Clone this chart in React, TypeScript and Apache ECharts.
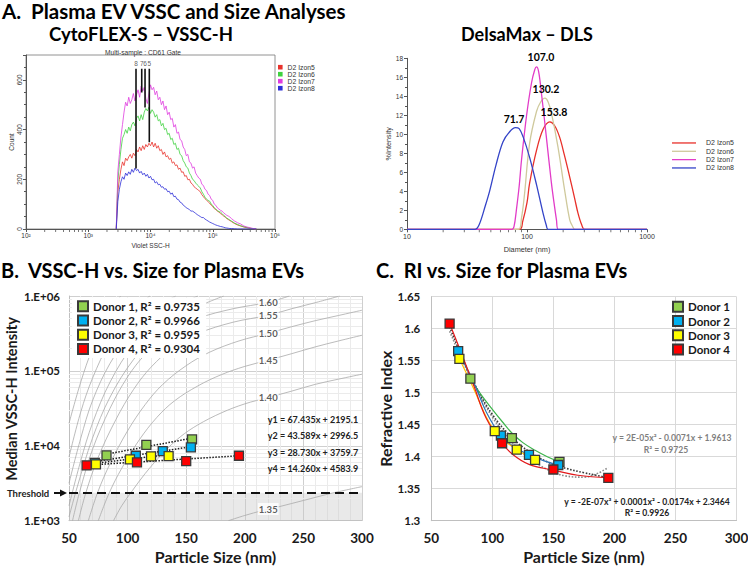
import React, { useEffect, useRef } from 'react';
import * as echarts from 'echarts';

const CAL = "Lato, 'Liberation Sans', sans-serif";
const SANS = "'Liberation Sans', Arial, sans-serif";

// ---------------- Panel A (left): CytoFLEX-S VSSC-H histogram ----------------
const flowBins = [
  2818, 2985, 3162, 3350, 3548, 3758, 3981, 4217, 4467, 4732,
  5012, 5309, 5623, 5957, 6310, 6683, 7079, 7499, 7943, 8414,
  8913, 9441, 10000, 10593, 11220, 11885, 12589, 13335, 14125, 14962,
  15849, 16788, 17783, 18836, 19953, 21135, 22387, 23714, 25119, 26607,
  28184, 29854, 31623, 33497, 35481, 37584, 39811, 42170, 44668, 47315,
  50119, 53088, 56234, 59566, 63096, 66834, 70795, 74989, 79433, 84140,
  89125, 94406, 100000, 105925, 112202, 118850, 125893, 133352, 141254, 149624,
  158489, 167880, 177828, 188365, 199526,
  223872, 251189, 281838, 316228, 354813, 398107, 446684, 501187,
];
const flowIzon5 = [
  0, 150, 200, 240, 270, 255, 285, 275, 290, 300,
  285, 305, 295, 320, 310, 330, 315, 335, 320, 340,
  330, 345, 335, 350, 330, 345, 325, 335, 315, 320,
  300, 310, 290, 295, 280, 285, 265, 270, 255, 258,
  240, 245, 228, 230, 212, 215, 198, 200, 185, 180,
  170, 165, 160, 155, 150, 138, 130, 122, 116, 110,
  104, 96, 90, 82, 78, 72, 68, 62, 58, 52,
  48, 42, 38, 34, 30,
  22, 16, 12, 8, 5, 3, 1, 0,
];
const flowIzon6 = [
  0, 190, 260, 320, 365, 380, 400, 385, 410, 395,
  420, 430, 415, 445, 455, 435, 460, 440, 470, 485,
  475, 490, 465, 480, 470, 450, 460, 435, 440, 415,
  425, 400, 405, 380, 385, 360, 365, 340, 345, 320,
  325, 300, 295, 275, 265, 250, 245, 225, 215, 200,
  195, 185, 178, 172, 165, 150, 140, 128, 120, 115,
  112, 100, 95, 85, 80, 74, 70, 68, 62, 55,
  50, 44, 40, 36, 32,
  24, 18, 13, 9, 6, 3, 1, 0,
];
const flowIzon7 = [
  0, 230, 300, 370, 420, 470, 510, 495, 530, 505,
  520, 545, 515, 540, 560, 530, 575, 555, 570, 525,
  505, 545, 580, 560, 570, 540, 555, 520, 530, 500,
  515, 480, 495, 460, 470, 440, 445, 410, 420, 385,
  390, 360, 355, 330, 320, 295, 300, 270, 265, 245,
  250, 225, 215, 205, 200, 180, 175, 160, 155, 140,
  135, 120, 115, 100, 95, 85, 80, 75, 72, 65,
  60, 55, 52, 48, 42,
  32, 25, 20, 12, 8, 5, 2, 0,
];
const flowIzon8 = [
  0, 110, 160, 190, 210, 200, 225, 215, 230, 220,
  240, 228, 245, 235, 240, 225, 232, 218, 225, 212,
  220, 205, 212, 198, 200, 185, 190, 178, 180, 168,
  170, 160, 162, 150, 152, 140, 145, 130, 132, 120,
  118, 108, 105, 96, 92, 85, 82, 78, 72, 72,
  68, 63, 58, 54, 50, 46, 46, 40, 36, 32,
  28, 25, 22, 19, 16, 14, 12, 10, 9, 7,
  5, 4, 3, 2, 2,
  1, 0, 0, 0, 0, 0, 0, 0,
];
const flowNames = ['D2 Izon5', 'D2 Izon6', 'D2 Izon7', 'D2 Izon8'];
const flowColors = ['#e8322c', '#3fd23f', '#e03ce0', '#2d2fd8'];
const gateLabels = ['8', '7', '6', '5'];
const gateX = [5850, 7230, 8170, 9570];
const gateBottom = [243, 549, 489, 349];
const gateTop = 645;
const flowMinorTicks = [
  200, 300, 400, 500, 600, 700, 800, 900,
  2000, 3000, 4000, 5000, 6000, 7000, 8000, 9000,
  20000, 30000, 40000, 50000, 60000, 70000, 80000, 90000,
  200000, 300000, 400000, 500000, 600000, 700000, 800000, 900000,
];

// ---------------- Panel A (right): DelsaMax DLS ----------------
const dlsNames = ['D2 Izon5 ', 'D2 Izon6 ', 'D2 Izon7 ', 'D2 Izon8 '];
const dlsColors = ['#e8302a', '#cfc99c', '#e23cc8', '#3444c8'];
const dls5X = [10, 87, 92, 100, 105, 120, 136, 155, 170, 187, 205, 227, 250, 266, 285, 302, 1000];
const dls5Y = [0, 0, 0.8, 2.8, 4.8, 8.3, 10.5, 11.3, 10.9, 9.7, 7.8, 5.5, 3.2, 1.7, 0.5, 0, 0];
const dls6X = [10, 85, 90, 95, 105, 120, 130, 141, 150, 160, 181, 206, 227, 240, 250, 1000];
const dls6Y = [0, 0, 1.2, 3.5, 9.0, 12.4, 13.4, 13.8, 13.4, 12.2, 8.7, 4.1, 1.0, 0.3, 0, 0];
const dls7X = [10, 75, 78, 81.5, 86, 90, 99, 109, 116, 120, 125, 132, 145, 160, 170, 176, 182, 1000];
const dls7Y = [0, 0, 0.3, 2, 4.5, 7.3, 11.9, 15.4, 16.8, 17.1, 16.6, 14.3, 9.7, 4.8, 2.3, 1, 0, 0];
const dls8X = [10, 37, 40, 45, 49, 55, 63, 72, 80, 86, 93, 105, 120, 136, 145, 150, 1000];
const dls8Y = [0, 0, 0.5, 2.5, 4.1, 6.7, 9.2, 10.3, 10.7, 10.6, 9.7, 7.6, 4.7, 1.7, 0.4, 0, 0];
const dlsMinorTicks = [20, 30, 40, 50, 60, 70, 80, 90, 200, 300, 400, 500, 600, 700, 800, 900];

// ---------------- Panel B: VSSC-H vs size ----------------
const d1Size = [82, 116, 155];
const d2Size = [72, 107, 130, 154];
const d3Size = [73, 102, 120, 135];
const d4Size = [65, 108, 150, 195];
const d1Int = [7450, 10300, 12160];
const d2Int = [5930, 7360, 8490, 9530];
const d3Int = [5650, 6580, 7210, 7290];
const d4Int = [5480, 6010, 6250, 7360];
const d1Trend = [7725, 12647];
const d2Trend = [6135, 9709];
const d3Trend = [5857, 7638];
const d4Trend = [5511, 7365];
const thresholdValue = 2360;
const bMinorY = [
  2000, 3000, 4000, 5000, 6000, 7000, 8000, 9000,
  20000, 30000, 40000, 50000, 60000, 70000, 80000, 90000,
  200000, 300000, 400000, 500000, 600000, 700000, 800000, 900000,
];
// theoretical RI curves: size (nm) and log10(intensity)
const ri135Size = [186, 200, 215, 230, 250, 275, 300];
const ri135Log = [3.0, 3.07, 3.135, 3.19, 3.27, 3.37, 3.455];
const ri140Size = [88, 95, 104, 115, 130, 145, 160, 180, 200, 220, 240, 260, 280, 300];
const ri140Log = [3.0, 3.2, 3.4, 3.63, 3.9, 4.12, 4.28, 4.44, 4.56, 4.645, 4.73, 4.82, 4.89, 4.956];
const ri145Size = [75, 84, 95, 110, 125, 140, 160, 180, 200, 220, 240, 260, 280, 300];
const ri145Log = [3.0, 3.36, 3.7, 4.08, 4.38, 4.6, 4.8, 4.95, 5.06, 5.143, 5.23, 5.32, 5.4, 5.476];
const ri150Size = [66.5, 74.5, 85, 100, 115, 130, 150, 170, 195, 220, 240, 260, 280, 300];
const ri150Log = [3.0, 3.38, 3.76, 4.2, 4.55, 4.82, 5.07, 5.25, 5.4, 5.503, 5.59, 5.67, 5.74, 5.81];
const ri155Size = [58, 64.5, 75, 90, 105, 120, 140, 160, 190, 220, 240, 260, 281];
const ri155Log = [3.0, 3.38, 3.85, 4.35, 4.75, 5.05, 5.33, 5.5, 5.65, 5.743, 5.83, 5.91, 6.0];
const ri160Size = [53, 59, 70, 85, 100, 115, 135, 160, 190, 220, 238];
const ri160Log = [3.0, 3.38, 3.95, 4.5, 4.92, 5.22, 5.5, 5.7, 5.83, 5.916, 6.0];
const riU1Size = [50, 60, 70, 80, 94];
const riU1Log = [4.3, 4.85, 5.3, 5.65, 6.0];
const riU2Size = [50, 60, 70, 85, 100, 119];
const riU2Log = [3.85, 4.45, 4.9, 5.4, 5.75, 6.0];
const riU3Size = [50, 60, 70, 85, 105, 125, 141];
const riU3Log = [3.5, 4.1, 4.6, 5.1, 5.55, 5.85, 6.0];
const riU4Size = [50, 60, 70, 85, 105, 130, 160];
const riU4Log = [3.2, 3.8, 4.3, 4.85, 5.35, 5.75, 6.0];
const riU5Size = [50, 57, 70, 85, 105, 130, 155, 182];
const riU5Log = [3.05, 3.45, 4.1, 4.65, 5.15, 5.57, 5.82, 6.0];
const riLabelText = ['1.60', '1.55', '1.50', '1.45', '1.40', '1.35'];
const riLabelSize = 220;
const riLabelLog = [5.91, 5.743, 5.503, 5.143, 4.645, 3.156];

// ---------------- Panel C: RI vs size ----------------
const d1RI = [1.522, 1.429, 1.392];
const d2RI = [1.565, 1.433, 1.403, 1.387];
const d3RI = [1.553, 1.440, 1.411, 1.395];
const d4RI = [1.608, 1.421, 1.380, 1.367];
const fitSize = [65, 75, 85, 100, 115, 130, 145, 160, 175, 185, 195];
const fitQuadRI = [1.596, 1.552, 1.513, 1.462, 1.425, 1.398, 1.380, 1.370, 1.368, 1.373, 1.383];
const fitCubicRI = [1.603, 1.556, 1.515, 1.466, 1.432, 1.408, 1.392, 1.382, 1.375, 1.371, 1.367];
const d1LineSize = [82, 90, 100, 108, 116, 125, 135, 145, 155];
const d1LineRI = [1.522, 1.499, 1.474, 1.455, 1.437, 1.422, 1.410, 1.400, 1.392];
const d2LineSize = [72, 85, 95, 107, 118, 130, 143, 154];
const d2LineRI = [1.565, 1.515, 1.47, 1.433, 1.415, 1.403, 1.393, 1.387];
const d3LineSize = [73, 85, 95, 102, 110, 120, 128, 135];
const d3LineRI = [1.553, 1.505, 1.462, 1.44, 1.425, 1.411, 1.402, 1.395];
const d4LineSize = [65, 75, 85, 95, 108, 117, 130, 150, 170, 195];
const d4LineRI = [1.608, 1.56, 1.51, 1.46, 1.421, 1.403, 1.388, 1.379, 1.371, 1.367];

const donorFill = ['#92d050', '#00b0f0', '#ffff00', '#ff0000'];
const donorLine = ['#3cb44b', '#2e75b6', '#ffc000', '#e31a1c'];
const donorNamesB = ['Donor 1, R² = 0.9735', 'Donor 2, R² = 0.9966', 'Donor 3, R² = 0.9595', 'Donor 4, R² = 0.9304'];
const donorNamesC = ['Donor 1', 'Donor 2', 'Donor 3', 'Donor 4'];

const SUP: Record<number, string> = { 2: '²', 3: '³', 4: '⁴', 5: '⁵', 6: '⁶' };
const zip = (xs: number[], ys: number[]) => xs.map((x, i) => [x, ys[i]]);

function T(x: number, y: number, text: string, font: string, align = 'left', fill = '#000', rotation = 0) {
  return { type: 'text', x, y, rotation, z: 100, silent: true, style: { text, font, fill, align, verticalAlign: 'middle' } };
}

function buildOption() {
  const series: any[] = [];
  // Flow histogram
  const flowVals = [flowIzon5, flowIzon6, flowIzon7, flowIzon8];
  flowNames.forEach((n, i) => {
    series.push({
      type: 'line', name: n, xAxisIndex: 0, yAxisIndex: 0, data: zip(flowBins, flowVals[i]),
      symbol: 'none', lineStyle: { width: 0.8, color: flowColors[i] }, itemStyle: { color: flowColors[i] }, z: 2,
    });
  });
  gateX.forEach((x, i) => {
    series.push({
      type: 'line', xAxisIndex: 0, yAxisIndex: 0, data: [[x, gateTop], [x, gateBottom[i]]],
      symbol: 'none', lineStyle: { width: 1.6, color: '#111' }, z: 4, silent: true,
    });
  });
  series.push({
    type: 'scatter', xAxisIndex: 0, yAxisIndex: 0, data: gateX.map((x, i) => [x, gateTop, gateLabels[i]]),
    symbolSize: 0.01, itemStyle: { color: 'rgba(0,0,0,0)' }, silent: true, z: 5,
    label: { show: true, position: 'top', distance: 2, formatter: (p: any) => p.value[2], fontSize: 6.5, color: '#333', fontFamily: SANS },
  });
  series.push({
    type: 'scatter', xAxisIndex: 0, yAxisIndex: 0, data: flowMinorTicks.map((v) => [v, 0]), clip: false, silent: true,
    symbol: 'rect', symbolSize: [0.8, 3], symbolOffset: [0, 1.5], itemStyle: { color: '#555', opacity: 1 }, z: 1,
  });

  // DLS
  const dlsX = [dls5X, dls6X, dls7X, dls8X];
  const dlsY = [dls5Y, dls6Y, dls7Y, dls8Y];
  dlsNames.forEach((n, i) => {
    series.push({
      type: 'line', name: n, xAxisIndex: 1, yAxisIndex: 1, data: zip(dlsX[i], dlsY[i]), smooth: 0.35,
      symbol: 'none', lineStyle: { width: 1.3, color: dlsColors[i] }, itemStyle: { color: dlsColors[i] }, z: 2,
    });
  });
  series.push({
    type: 'scatter', xAxisIndex: 1, yAxisIndex: 1, data: dlsMinorTicks.map((v) => [v, 0]), clip: false, silent: true,
    symbol: 'rect', symbolSize: [0.8, 3], symbolOffset: [0, 1.5], itemStyle: { color: '#555', opacity: 1 }, z: 1,
  });

  // Panel B background marks
  series.push({
    type: 'line', xAxisIndex: 2, yAxisIndex: 2, data: [], symbol: 'none', silent: true, z: 1,
    markArea: { silent: true, z: 1, itemStyle: { color: 'rgba(200,200,200,0.4)' }, data: [[{ yAxis: 1000 }, { yAxis: thresholdValue }]] },
    markLine: {
      silent: true, z: 1, symbol: 'none', label: { show: false }, animation: false,
      lineStyle: { color: '#ebebeb', width: 1, type: 'solid' }, data: bMinorY.map((v) => ({ yAxis: v })),
    },
  });
  const riCurves = [
    [ri135Size, ri135Log], [ri140Size, ri140Log], [ri145Size, ri145Log], [ri150Size, ri150Log],
    [ri155Size, ri155Log], [ri160Size, ri160Log], [riU1Size, riU1Log], [riU2Size, riU2Log],
    [riU3Size, riU3Log], [riU4Size, riU4Log], [riU5Size, riU5Log],
  ];
  riCurves.forEach(([s, l]) => {
    series.push({
      type: 'line', xAxisIndex: 2, yAxisIndex: 2, data: s.map((v, i) => [v, Math.pow(10, l[i])]),
      smooth: 0.35, symbol: 'none', silent: true, lineStyle: { color: '#a9a9a9', width: 0.8 }, z: 2,
    });
  });
  series.push({
    type: 'scatter', xAxisIndex: 2, yAxisIndex: 2, silent: true, z: 3,
    data: riLabelText.map((t, i) => [riLabelSize, Math.pow(10, riLabelLog[i]), t]),
    symbolSize: 0.01, itemStyle: { color: 'rgba(0,0,0,0)' },
    label: { show: true, position: 'inside', formatter: (p: any) => p.value[2], fontSize: 9.5, fontWeight: 'bold', fontFamily: CAL, color: '#333', backgroundColor: '#fff', padding: [1, 1] },
  });
  series.push({
    type: 'line', xAxisIndex: 2, yAxisIndex: 2, data: [], symbol: 'none', silent: true, z: 3,
    markLine: { silent: true, z: 3, symbol: 'none', label: { show: false }, lineStyle: { color: '#111', width: 2, type: [9, 5] }, data: [{ yAxis: thresholdValue }] },
  });
  const bSizes = [d1Size, d2Size, d3Size, d4Size];
  const bInts = [d1Int, d2Int, d3Int, d4Int];
  const bTrends = [d1Trend, d2Trend, d3Trend, d4Trend];
  bSizes.forEach((s, i) => {
    series.push({
      type: 'line', xAxisIndex: 2, yAxisIndex: 2, silent: true, z: 4, symbol: 'none',
      data: [[s[0], bTrends[i][0]], [s[s.length - 1], bTrends[i][1]]],
      lineStyle: { type: 'dotted', color: '#1a1a1a', width: 1.5 },
    });
  });
  bSizes.forEach((s, i) => {
    series.push({
      type: 'scatter', name: donorNamesB[i], xAxisIndex: 2, yAxisIndex: 2, z: 5, data: zip(s, bInts[i]),
      symbol: 'rect', symbolSize: 9, itemStyle: { color: donorFill[i], borderColor: '#3a3a3a', borderWidth: 1.3, opacity: 1 },
    });
  });

  // Panel C
  series.push({
    type: 'line', xAxisIndex: 3, yAxisIndex: 3, data: zip(fitSize, fitQuadRI), smooth: 0.4, symbol: 'none', silent: true, z: 2,
    lineStyle: { type: 'dotted', color: '#8a8a8a', width: 1.6 },
  });
  series.push({
    type: 'line', xAxisIndex: 3, yAxisIndex: 3, data: zip(fitSize, fitCubicRI), smooth: 0.4, symbol: 'none', silent: true, z: 2,
    lineStyle: { type: 'dotted', color: '#3a3a3a', width: 1.6 },
  });
  const cLines = [[d1LineSize, d1LineRI], [d2LineSize, d2LineRI], [d3LineSize, d3LineRI], [d4LineSize, d4LineRI]];
  cLines.forEach(([s, r], i) => {
    series.push({
      type: 'line', xAxisIndex: 3, yAxisIndex: 3, data: zip(s, r), smooth: 0.4, symbol: 'none', silent: true, z: 3,
      lineStyle: { color: donorLine[i], width: 1.2 },
    });
  });
  const cRIs = [d1RI, d2RI, d3RI, d4RI];
  bSizes.forEach((s, i) => {
    series.push({
      type: 'scatter', name: donorNamesC[i], xAxisIndex: 3, yAxisIndex: 3, z: 5, data: zip(s, cRIs[i]),
      symbol: 'rect', symbolSize: 9, itemStyle: { color: donorFill[i], borderColor: '#3a3a3a', borderWidth: 1.3, opacity: 1 },
    });
  });

  const smallAxis = (extra: any) => ({
    axisLine: { show: true, lineStyle: { color: '#555', width: 1 } },
    axisTick: { show: true, length: 3, lineStyle: { color: '#555' } },
    splitLine: { show: false },
    ...extra,
  });
  const bigLabel = { fontSize: 13.5, fontWeight: 'bold', fontFamily: CAL, color: '#1a1a1a' };

  const graphics: any[] = [
    T(2, 11, 'A.\u00a0 Plasma EV VSSC and Size Analyses', `bold 20.5px ${CAL}`),
    T(141, 33.5, 'CytoFLEX-S – VSSC-H', `bold 18.5px ${CAL}`, 'center'),
    T(527, 33.5, 'DelsaMax – DLS', `bold 18px ${CAL}`, 'center'),
    T(1, 270, 'B.\u00a0 VSSC-H vs. Size for Plasma EVs', `bold 20px ${CAL}`),
    T(376, 270, 'C.\u00a0 RI vs. Size for Plasma EVs', `bold 20px ${CAL}`),
    T(143, 52, 'Multi-sample : CD61 Gate', `6.6px ${SANS}`, 'center', '#333'),
    T(541, 57, '107.0', `bold 10.5px ${CAL}`, 'center'),
    T(546, 89, '130.2', `bold 10.5px ${CAL}`, 'center'),
    T(554, 112, '153.8', `bold 10.5px ${CAL}`, 'center'),
    T(514, 119, '71.7', `bold 10.5px ${CAL}`, 'center'),
    T(11, 399, 'Median VSSC-H Intensity', `bold 14.5px ${CAL}`, 'center', '#1a1a1a', Math.PI / 2),
    T(313, 419, 'y1 = 67.435x + 2195.1', `bold 9px ${CAL}`, 'center', '#222'),
    T(313, 435, 'y2 = 43.589x + 2996.5', `bold 9px ${CAL}`, 'center', '#222'),
    T(313, 452.5, 'y3 = 28.730x + 3759.7', `bold 9px ${CAL}`, 'center', '#222'),
    T(313, 468, 'y4 = 14.260x + 4583.9', `bold 9px ${CAL}`, 'center', '#222'),
    T(7, 493, 'Threshold', `bold 9.5px ${CAL}`, 'left', '#222'),
    { type: 'line', z: 100, silent: true, shape: { x1: 54, y1: 493, x2: 62, y2: 493 }, style: { stroke: '#111', lineWidth: 2 } },
    { type: 'polygon', z: 100, silent: true, shape: { points: [[60, 489.5], [67, 493], [60, 496.5]] }, style: { fill: '#111' } },
    T(672, 438, 'y = 2E-05x² - 0.0071x + 1.9613', `bold 8.6px ${CAL}`, 'center', '#7f7f7f'),
    T(666, 450, 'R² = 0.9725', `bold 8.6px ${CAL}`, 'center', '#7f7f7f'),
    T(647, 501.7, 'y = -2E-07x³ + 0.0001x² - 0.0174x + 2.3464', `bold 8.6px ${CAL}`, 'center', '#222'),
    T(647, 512.7, 'R² = 0.9926', `bold 8.6px ${CAL}`, 'center', '#222'),
  ];

  return {
    animation: false,
    backgroundColor: '#fff',
    grid: [
      { left: 26, top: 55, right: 473, bottom: 340, show: true, borderColor: '#777', borderWidth: 0.8, containLabel: false, outerBoundsMode: 'none' },
      { left: 407, top: 58.3, right: 101, bottom: 339.7, containLabel: false, outerBoundsMode: 'none' },
      { left: 69, top: 296, right: 386, bottom: 48.3, containLabel: false, outerBoundsMode: 'none' },
      { left: 431.3, top: 296.7, right: 11.5, bottom: 48.3, containLabel: false, outerBoundsMode: 'none' },
    ],
    xAxis: [
      smallAxis({
        gridIndex: 0, type: 'log', logBase: 10, min: 100, max: 1000000,
        axisLabel: { fontSize: 6.5, color: '#333', margin: 3, fontFamily: SANS, formatter: (v: number) => '10' + SUP[Math.round(Math.log10(v))] },
        name: 'Violet SSC-H', nameLocation: 'middle', nameGap: 13, nameTextStyle: { fontSize: 6.5, color: '#333', fontFamily: SANS },
      }),
      smallAxis({
        gridIndex: 1, type: 'log', logBase: 10, min: 10, max: 1000,
        axisLabel: { fontSize: 7, color: '#333', margin: 4, fontFamily: SANS, formatter: (v: number) => String(Math.round(v)) },
        name: 'Diameter (nm)', nameLocation: 'middle', nameGap: 17, nameTextStyle: { fontSize: 7.3, color: '#333', fontFamily: SANS },
      }),
      {
        gridIndex: 2, type: 'value', min: 50, max: 300, interval: 50,
        axisLine: { show: true, lineStyle: { color: '#bfbfbf' } }, axisTick: { show: false },
        axisLabel: { ...bigLabel, margin: 10 },
        splitLine: { show: true, lineStyle: { color: '#cfcfcf', width: 1 } },
        minorTick: { show: false, splitNumber: 5 }, minorSplitLine: { show: true, lineStyle: { color: '#ebebeb', width: 1 } },
        name: 'Particle Size (nm)', nameLocation: 'middle', nameGap: 28, nameTextStyle: { fontSize: 16, fontWeight: 'bold', fontFamily: CAL, color: '#1a1a1a' },
      },
      {
        gridIndex: 3, type: 'value', min: 50, max: 300, interval: 50,
        axisLine: { show: true, lineStyle: { color: '#bfbfbf' } }, axisTick: { show: false },
        axisLabel: { ...bigLabel, margin: 10 },
        splitLine: { show: true, lineStyle: { color: '#d9d9d9', width: 1 } },
        name: 'Particle Size (nm)', nameLocation: 'middle', nameGap: 28, nameTextStyle: { fontSize: 16, fontWeight: 'bold', fontFamily: CAL, color: '#1a1a1a' },
      },
    ],
    yAxis: [
      smallAxis({
        gridIndex: 0, type: 'value', min: 0, max: 700, interval: 200,
        axisLabel: { fontSize: 6.5, color: '#333', margin: 3, rotate: 90, fontFamily: SANS, showMaxLabel: false },
        minorTick: { show: true, splitNumber: 4, length: 2, lineStyle: { color: '#555' } },
        name: 'Count', nameLocation: 'middle', nameGap: 11, nameTextStyle: { fontSize: 6.5, color: '#333', fontFamily: SANS },
      }),
      smallAxis({
        gridIndex: 1, type: 'value', min: 0, max: 18, interval: 2,
        axisLabel: { fontSize: 6.5, color: '#333', margin: 4, fontFamily: SANS },
        minorTick: { show: true, splitNumber: 2, length: 2, lineStyle: { color: '#555' } },
        name: '%Intensity', nameLocation: 'middle', nameGap: 14, nameTextStyle: { fontSize: 7.2, color: '#333', fontFamily: SANS },
      }),
      {
        gridIndex: 2, type: 'log', logBase: 10, min: 1000, max: 1000000,
        axisLine: { show: true, lineStyle: { color: '#bfbfbf' } }, axisTick: { show: false },
        axisLabel: { fontSize: 11.5, fontWeight: 'bold', fontFamily: CAL, color: '#1a1a1a', margin: 9, formatter: (v: number) => '1.E+0' + Math.round(Math.log10(v)) },
        splitLine: { show: true, lineStyle: { color: '#cfcfcf', width: 1 } },
      },
      {
        gridIndex: 3, type: 'value', min: 1.3, max: 1.65, interval: 0.05,
        axisLine: { show: true, lineStyle: { color: '#bfbfbf' } }, axisTick: { show: false },
        axisLabel: { fontSize: 11.5, fontWeight: 'bold', fontFamily: CAL, color: '#1a1a1a', margin: 11, formatter: (v: number) => String(Number(v.toFixed(2))) },
        splitLine: { show: true, lineStyle: { color: '#d9d9d9', width: 1 } },
        name: 'Refractive Index', nameLocation: 'middle', nameGap: 37, nameTextStyle: { fontSize: 16, fontWeight: 'bold', fontFamily: CAL, color: '#1a1a1a' },
      },
    ],
    legend: [
      {
        data: flowNames, left: 278, top: 63.7, orient: 'vertical', icon: 'rect', itemWidth: 4.6, itemHeight: 4.6, itemGap: 0,
        padding: 0, selectedMode: false, textStyle: { fontSize: 6.8, color: '#333', fontFamily: SANS, lineHeight: 4.67 },
      },
      {
        data: dlsNames, left: 672, top: 138.8, orient: 'vertical', icon: 'rect', itemWidth: 24, itemHeight: 1.3, itemGap: 0,
        padding: 0, selectedMode: false, textStyle: { fontSize: 7, color: '#333', fontFamily: SANS, lineHeight: 8.33, padding: [0, 0, 0, 5] },
      },
      {
        data: donorNamesB, left: 72, top: 297.3, orient: 'vertical', icon: 'rect', itemWidth: 10, itemHeight: 10, itemGap: 2.2,
        padding: [3, 6, 3, 5], backgroundColor: '#fff', selectedMode: false, z: 10,
        textStyle: { fontSize: 11.5, fontWeight: 'bold', fontFamily: CAL, color: '#1a1a1a' },
      },
      {
        data: donorNamesC, left: 667, top: 298.8, orient: 'vertical', icon: 'rect', itemWidth: 10, itemHeight: 10, itemGap: 2.2,
        padding: [2, 5, 2, 5], selectedMode: false, z: 10,
        textStyle: { fontSize: 11.5, fontWeight: 'bold', fontFamily: CAL, color: '#1a1a1a' },
      },
    ],
    graphic: { elements: graphics },
    series,
  };
}

export default function App() {
  const ref = useRef<HTMLDivElement>(null);
  useEffect(() => {
    if (!ref.current) return;
    const chart = echarts.init(ref.current, null, { renderer: 'svg', width: 748, height: 569 });
    chart.setOption(buildOption() as any);
    return () => chart.dispose();
  }, []);
  return <div ref={ref} style={{ position: 'absolute', left: 0, top: 0, width: 748, height: 569, background: '#fff' }} />;
}
